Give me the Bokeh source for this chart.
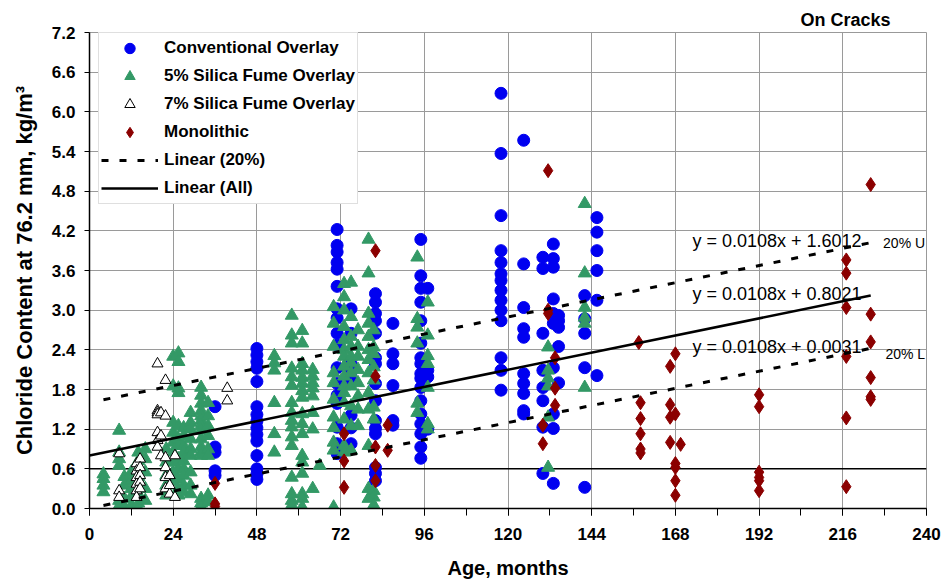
from bokeh.plotting import figure
from bokeh.models import Range1d, FixedTicker, NumeralTickFormatter, Label, Legend, LegendItem
from bokeh.embed import file_html
from bokeh.resources import INLINE

# ---------------- data ----------------
x_ticks = [0, 24, 48, 72, 96, 120, 144, 168, 192, 216, 240]
x_minor = [0, 12, 24, 36, 48, 60, 72, 84, 96, 108, 120, 132, 144, 156, 168, 180, 192, 204, 216, 228, 240]
y_ticks = [0.0, 0.6, 1.2, 1.8, 2.4, 3.0, 3.6, 4.2, 4.8, 5.4, 6.0, 6.6, 7.2]

conv_months = [36, 48, 71, 75, 82, 87, 95, 97, 118, 124.5, 130, 133, 134.5, 142, 145.5]
conv_chloride = [
    [1.54, 0.93, 0.85, 0.57, 0.50],
    [2.42, 2.32, 2.22, 2.12, 1.92, 1.54, 1.42, 1.32, 1.22, 1.12, 1.02, 0.80, 0.60, 0.52, 0.44],
    [4.22, 3.98, 3.88, 3.72, 3.62, 3.36, 3.02, 2.88, 2.65, 2.47, 2.13, 1.89, 1.71, 1.59, 1.23, 0.98, 0.83],
    [3.02, 2.65, 2.19, 2.06, 1.94, 1.41, 1.22, 0.98],
    [3.25, 3.12, 2.95, 2.84, 2.65, 2.28, 2.19, 1.89, 1.63, 1.33, 1.21, 1.13, 0.62, 0.53, 0.42],
    [2.80, 2.34, 2.19, 1.86, 1.33, 1.26],
    [4.07, 3.52, 3.33, 3.12, 2.84, 2.50, 2.28, 2.19, 2.04, 1.97, 1.83, 1.63, 1.43, 1.28, 1.13, 0.93, 0.76],
    [3.33, 2.09, 1.99, 1.20],
    [6.28, 5.37, 4.43, 3.90, 3.72, 3.55, 3.45, 3.30, 3.15, 3.00, 2.84, 2.28, 2.09, 1.79],
    [5.57, 3.70, 3.04, 2.72, 2.59, 2.04, 1.89, 1.74, 1.48, 1.43],
    [3.80, 3.63, 2.65, 2.09, 1.83, 1.63, 1.23, 0.53],
    [4.00, 3.78, 3.65, 3.17, 2.95, 2.80, 2.13, 1.43, 1.21, 0.38],
    [2.92, 2.84, 2.74, 2.45, 1.90],
    [3.22, 2.87, 2.65, 2.13, 0.32],
    [4.40, 4.18, 3.90, 3.60, 3.15, 2.01],
]

sf5_months = [4, 8.5, 10, 12, 14, 16, 22, 24, 25.5, 27, 29, 32, 34, 53, 58, 61, 64, 66,
              70, 73, 75, 77, 80, 81.5, 94, 97, 131.5, 142]
sf5_chloride = [
    [0.52, 0.45, 0.35, 0.25],
    [1.18, 0.85, 0.75, 0.65, 0.12, 0.04],
    [0.48, 0.35, 0.15, 0.02],
    [0.55, 0.42, 0.30, 0.18, 0.05],
    [0.85, 0.72, 0.60, 0.48, 0.35, 0.22, 0.08, 0.00],
    [0.90, 0.75, 0.55, 0.30, 0.12],
    [0.90, 0.70, 0.50, 0.35, 0.20],
    [2.30, 1.85, 1.30, 1.15, 1.00, 0.85, 0.70, 0.55, 0.40],
    [2.35, 2.22, 1.82, 1.75, 1.25, 1.05, 0.95, 0.75, 0.60, 0.45, 0.30, 0.20],
    [1.22, 1.10, 0.95, 0.85, 0.72, 0.60, 0.50, 0.35, 0.25],
    [1.45, 1.30, 1.20, 1.05, 0.90, 0.80, 0.55, 0.35, 0.22],
    [1.83, 1.71, 1.59, 1.48, 1.40, 1.33, 1.25, 1.18, 1.05, 0.93, 0.85, 0.80, 0.15, 0.08, 0.02],
    [1.60, 1.40, 1.25, 1.10, 0.90, 0.80, 0.20, 0.10],
    [2.31, 2.20, 2.09, 1.60, 1.13, 0.85],
    [2.92, 2.62, 2.50, 2.12, 1.99, 1.86, 1.60, 1.45, 1.33, 1.23, 1.08, 0.95, 0.47, 0.22, 0.12, 0.05],
    [2.69, 2.50, 2.19, 2.09, 1.98, 1.89, 1.78, 1.68, 1.43, 1.28, 1.13, 0.80, 0.70, 0.53, 0.22, 0.15, 0.02],
    [2.10, 2.00, 1.90, 1.82, 1.70, 1.45, 1.20, 0.30],
    [0.65],
    [3.05, 2.80, 2.45, 2.05, 1.90, 1.65, 1.38, 1.22, 1.00, 0.88, 0.02],
    [3.40, 3.20, 3.00, 2.75, 2.55, 2.40, 2.30, 2.15, 2.00, 1.85, 1.75, 1.60, 1.35, 0.95, 0.85],
    [3.42, 2.90, 2.60, 2.45, 2.30, 2.20, 2.05, 1.85, 1.55, 1.25, 0.88],
    [2.70, 2.45, 2.30, 2.10, 1.90, 1.70, 1.50, 1.25],
    [4.07, 3.56, 2.95, 2.80, 2.60, 2.40, 2.25, 2.05, 1.75, 1.50, 0.95, 0.30, 0.15],
    [2.70, 2.44, 2.34, 2.14, 1.94, 1.53, 1.35, 0.27, 0.17, 0.05],
    [3.80, 2.87, 2.74, 2.50, 1.59, 1.45],
    [3.12, 2.62, 2.31, 2.19, 1.83, 1.28, 1.20],
    [2.44, 2.09, 1.97, 1.85, 1.38, 0.62],
    [4.61, 3.56, 3.04, 2.89, 2.80, 1.83],
]

sf7_months = [8.5, 13.5, 14.5, 19.5, 20.5, 21.8, 23, 24.5, 39.5]
sf7_chloride = [
    [0.83, 0.27, 0.17],
    [0.68, 0.57, 0.47, 0.37, 0.27, 0.17],
    [0.75, 0.62, 0.50, 0.40, 0.30],
    [2.19, 1.48, 1.45, 1.42, 1.15, 1.03, 0.93],
    [1.45, 1.10, 0.80],
    [1.94, 1.40, 0.77, 0.62, 0.47, 0.30],
    [0.22, 0.50, 0.35],
    [0.80, 0.17],
    [1.82, 1.63],
]

mono_months = [36, 73, 82, 85.5, 130, 131.5, 133.5, 157.5, 158, 166.5, 168, 169.5, 192, 217, 224]
mono_chloride = [
    [0.38, 0.07, 0.03],
    [1.13, 0.72, 0.32],
    [3.90, 2.00, 0.93, 0.65, 0.42],
    [1.26, 0.88],
    [1.26, 0.98],
    [5.11, 3.00, 2.95],
    [2.28, 1.82, 1.56],
    [2.51],
    [1.60, 1.36, 1.13, 0.90, 0.84],
    [2.15, 1.57, 1.38, 1.00],
    [2.34, 1.43, 0.68, 0.62, 0.42, 0.20],
    [0.97],
    [1.72, 1.54, 0.55, 0.47, 0.42, 0.27],
    [3.76, 3.56, 3.04, 2.30, 1.37, 0.33],
    [4.90, 2.94, 2.52, 1.98, 1.69, 1.65],
]

trend_slope = 0.0108
intercept_upper = 1.6012
intercept_all = 0.8021
intercept_lower = 0.0031
trend_all_months = [0, 224]
trend_band_months = [4, 224]
threshold_cl = 0.6
threshold_months = [0, 240]


def expand(months, values):
    xs, ys = [], []
    for m, vals in zip(months, values):
        for v in vals:
            xs.append(m)
            ys.append(v)
    return xs, ys


conv_x, conv_y = expand(conv_months, conv_chloride)
sf5_x, sf5_y = expand(sf5_months, sf5_chloride)
sf7_x, sf7_y = expand(sf7_months, sf7_chloride)
mono_x, mono_y = expand(mono_months, mono_chloride)

FONT = "Liberation Sans"

p = figure(width=943, height=587, output_backend="svg", toolbar_location=None,
           title="On Cracks",
           x_range=Range1d(0, 240), y_range=Range1d(0, 7.2),
           min_border_left=89, min_border_right=17, min_border_top=32, min_border_bottom=79)
p.background_fill_color = "white"
p.border_fill_color = "white"
p.outline_line_color = "#999999"
p.outline_line_width = 1

p.title.align = "right"
p.title.offset = 36
p.title.standoff = 6
p.title.text_font = FONT
p.title.text_font_size = "18px"
p.title.text_font_style = "bold"
p.title.text_color = "black"

# axes
p.xaxis.ticker = FixedTicker(ticks=x_ticks, minor_ticks=x_minor)
p.yaxis.ticker = FixedTicker(ticks=y_ticks, minor_ticks=[])
p.yaxis.formatter = NumeralTickFormatter(format="0.0")
for ax in (p.xaxis, p.yaxis):
    ax.axis_line_color = "black"
    ax.axis_line_width = 1.5
    ax.major_tick_line_color = "black"
    ax.minor_tick_line_color = "black"
    ax.major_tick_in = 0
    ax.minor_tick_in = 0
    ax.major_label_text_font = FONT
    ax.major_label_text_font_size = "17px"
    ax.major_label_text_font_style = "bold"
    ax.major_label_text_color = "black"
    ax.axis_label_text_font = FONT
    ax.axis_label_text_font_style = "bold"
    ax.axis_label_text_color = "black"
p.xaxis.major_tick_out = 7
p.xaxis.minor_tick_out = 7
p.xaxis.major_label_standoff = 12
p.xaxis.axis_label = "Age, months"
p.xaxis.axis_label_text_font_size = "20px"
p.xaxis.axis_label_standoff = 14
p.yaxis.major_tick_out = 5
p.yaxis.minor_tick_out = 0
p.yaxis.major_label_standoff = 9
p.yaxis.axis_label = "Chloride Content at 76.2 mm, kg/m\u00b3"
p.yaxis.axis_label_text_font_size = "22px"
p.yaxis.axis_label_standoff = 12

p.xgrid.grid_line_color = "#9a9a9a"
p.ygrid.grid_line_color = "#9a9a9a"
p.xgrid.grid_line_width = 1
p.ygrid.grid_line_width = 1

# threshold line
p.line(threshold_months, [threshold_cl, threshold_cl], line_color="black", line_width=1.5)

# scatter series
r_conv = p.scatter(conv_x, conv_y, marker="circle", size=12,
                   fill_color="#0000F0", line_color="#0000F0")
r_sf5 = p.scatter(sf5_x, sf5_y, marker="triangle", size=13,
                  fill_color="#339966", line_color="#339966")
r_sf7 = p.scatter(sf7_x, sf7_y, marker="triangle", size=11,
                  fill_color="white", line_color="black", line_width=1)
r_mono = p.scatter(mono_x, mono_y, marker="diamond", size=14,
                   fill_color="#8B0000", line_color="#8B0000")

# trend lines
up_y = [trend_slope * m + intercept_upper for m in trend_band_months]
lo_y = [trend_slope * m + intercept_lower for m in trend_band_months]
all_y = [trend_slope * m + intercept_all for m in trend_all_months]
r_up = p.line(trend_band_months, up_y, line_color="black", line_width=3, line_dash="7 11")
p.line(trend_band_months, lo_y, line_color="black", line_width=3, line_dash="7 11")
r_all = p.line(trend_all_months, all_y, line_color="black", line_width=2.5)

# equation labels
eq_style = dict(text_font=FONT, text_font_size="18px", text_color="black",
                text_baseline="middle", text_align="left")
p.add_layout(Label(x=172.9, y=4.05, text=f"y = {trend_slope}x + {intercept_upper:.4f}", **eq_style))
p.add_layout(Label(x=172.9, y=3.24, text=f"y = {trend_slope}x + {intercept_all:.4f}", **eq_style))
p.add_layout(Label(x=172.9, y=2.44, text=f"y = {trend_slope}x + {intercept_lower:.4f}", **eq_style))
band_style = dict(text_font=FONT, text_font_size="14px", text_color="black",
                  text_baseline="middle", text_align="right")
p.add_layout(Label(x=239.6, y=4.01, text="20% U", **band_style))
p.add_layout(Label(x=239.6, y=2.33, text="20% L", **band_style))

legend = Legend(items=[
    LegendItem(label="Conventional Overlay", renderers=[r_conv]),
    LegendItem(label="5% Silica Fume Overlay", renderers=[r_sf5]),
    LegendItem(label="7% Silica Fume Overlay", renderers=[r_sf7]),
    LegendItem(label="Monolithic", renderers=[r_mono]),
    LegendItem(label="Linear (20%)", renderers=[r_up]),
    LegendItem(label="Linear (All)", renderers=[r_all]),
], location=(9, 304))
legend.glyph_width = 57
legend.glyph_height = 26
legend.label_height = 26
legend.spacing = 2
legend.padding = 2
legend.label_standoff = 6
legend.label_text_font = FONT
legend.label_text_font_size = "17px"
legend.label_text_font_style = "bold"
legend.label_text_color = "black"
legend.border_line_color = "#c0c0c0"
legend.border_line_width = 1
legend.background_fill_color = "white"
legend.background_fill_alpha = 1
p.add_layout(legend)

open("out.html", "w").write(file_html(p, INLINE))
